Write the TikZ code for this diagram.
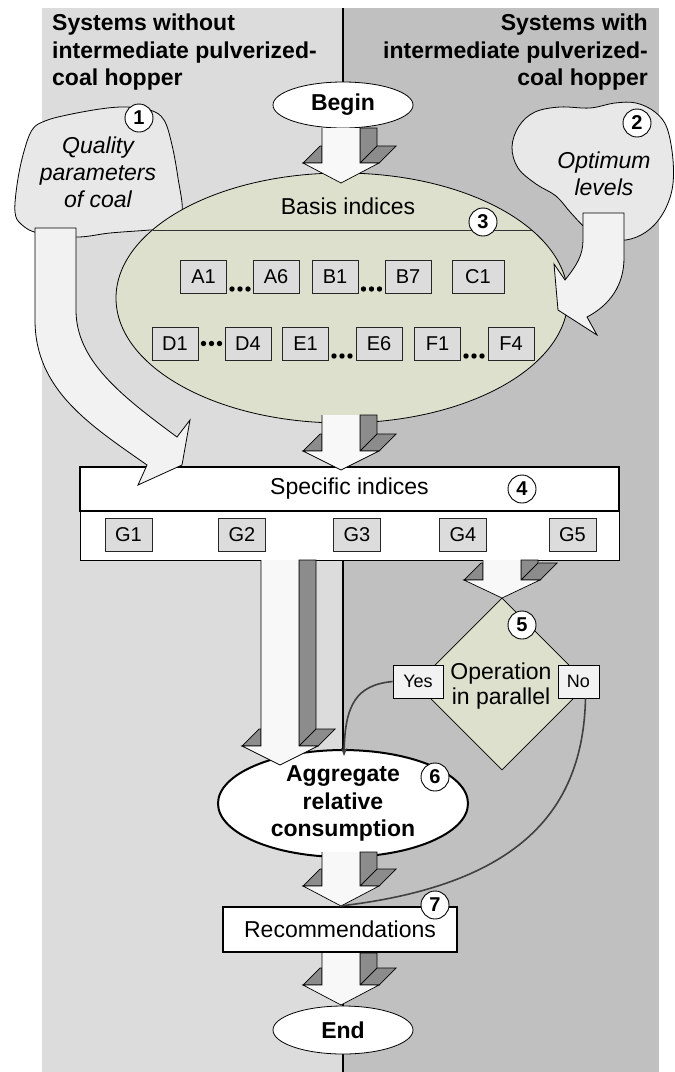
\documentclass[tikz,border=0pt]{standalone}
\usepackage{fontspec}
\setmainfont{Liberation Sans}
\usetikzlibrary{shapes.geometric,arrows.meta,calc}
\definecolor{bgL}{RGB}{220,220,220}
\definecolor{bgR}{RGB}{192,192,192}
\definecolor{cloudc}{RGB}{232,232,232}
\definecolor{sage}{RGB}{221,224,204}
\definecolor{idxg}{RGB}{220,220,220}
\definecolor{arrfr}{RGB}{248,248,248}
\definecolor{arrdk}{RGB}{140,140,140}
\definecolor{curvf}{RGB}{242,242,242}
\definecolor{lnk}{RGB}{64,64,64}
\newcommand{\tdarrow}[4]{%
 \pgfmathsetmacro\tdsl{#1-19}%
 \pgfmathsetmacro\tdsr{#1+19}%
 \pgfmathsetmacro\tdbl{#1-38}%
 \pgfmathsetmacro\tdbr{#1+38}%
 \pgfmathsetmacro\tdup{#3-17}%
 \pgfmathsetmacro\tdsrd{#1+36}%
 \pgfmathsetmacro\tdbrd{#1+55}%
 \pgfmathsetmacro\tdbld{#1-21}%
 \draw[adk] (\tdsr,#2) -- (\tdsrd,#2) -- (\tdsrd,\tdup) -- (\tdsr,#3) -- cycle;
 \draw[adk] (\tdsr,#3) -- (\tdbr,#3) -- (\tdbrd,\tdup) -- (\tdsrd,\tdup) -- cycle;
 \draw[adk] (\tdbl,#3) -- (\tdsl,#3) -- (\tdsl,\tdup) -- (\tdbld,\tdup) -- cycle;
 \fill[afr] (\tdsl,#2) -- (\tdsl,#3) -- (\tdbl,#3) -- (#1,#4) -- (\tdbr,#3) -- (\tdsr,#3) -- (\tdsr,#2) -- cycle;
 \draw[aln] (\tdsl,#2) -- (\tdsl,#3) -- (\tdbl,#3) -- (#1,#4) -- (\tdbr,#3) -- (\tdsr,#3) -- (\tdsr,#2);
}
\newcommand{\tridots}[2]{\foreach \dx in {-8,0,8}{\fill ({#1+\dx},#2) circle (2.7pt);}}
\tikzset{
 idx/.style={rectangle, draw=black!85, line width=0.8pt, fill=idxg, minimum width=46pt, minimum height=33pt, inner sep=0pt, font=\fontsize{20}{24}\selectfont},
 num/.style={circle, draw=black, line width=0.9pt, fill=white, minimum size=28pt, inner sep=0pt, font=\bfseries\fontsize{20}{24}\selectfont},
 term/.style={ellipse, draw=black, line width=0.8pt, fill=white, minimum width=140pt, minimum height=46pt, inner sep=0pt, font=\bfseries\fontsize{23}{27}\selectfont},
 cloudsh/.style={draw=black, line width=0.8pt, fill=cloudc},
 bigarr/.style={draw=black, line width=0.8pt, fill=curvf},
 adk/.style={draw=black, line width=0.7pt, fill=arrdk},
 afr/.style={fill=arrfr},
 aln/.style={draw=black, line width=0.7pt},
 yn/.style={rectangle, draw=black, line width=0.8pt, fill=curvf, minimum height=33pt, inner sep=0pt, font=\fontsize{18}{22}\selectfont},
 link/.style={draw=lnk, line width=1.6pt},
 heading/.style={inner sep=0pt, font=\bfseries\fontsize{23}{27.5}\selectfont},
 cltext/.style={inner sep=0pt, align=center, font=\itshape\fontsize{23}{27}\selectfont},
}
\begin{document}
\begin{tikzpicture}[x=1pt,y=-1pt]
\useasboundingbox (0,0) rectangle (675,1072);
\fill[white] (0,0) rectangle (675,1072);
% background panels
\fill[bgL] (42,8) rectangle (343,1072);
\fill[bgR] (343,8) rectangle (659,1072);
\draw[line width=1.2pt] (343,8) -- (343,1072);
% headings
\node[heading, anchor=north west, align=left] (hl) at (52,14) {Systems without\\intermediate pulverized-\\coal hopper};
\node[heading, anchor=north east, align=right] (hr) at (648,14) {Systems with\\intermediate pulverized-\\coal hopper};
% clouds
\draw[cloudsh] plot[smooth cycle, tension=0.6] coordinates {(15,212) (17,185) (23,155) (32,130) (45,121) (67,115) (100,109) (125,107) (150,110) (164,120) (172,145) (178,178) (182,212) (170,228) (150,230) (110,233) (77,237) (38,233) (21,224)};
\draw[cloudsh] plot[smooth cycle, tension=0.6] coordinates {(512,147) (518,168) (536,184) (556,196) (571,213) (587,229) (606,238) (626,240) (646,232) (662,215) (672,190) (673,160) (667,128) (655,112) (636,103) (615,103) (590,108) (560,107) (535,112) (519,126)};
\node[cltext] (c1t) at (98,172) {Quality\\parameters\\of coal};
\node[cltext] (c2t) at (604,174) {Optimum\\levels};
% basis ellipse
\node[ellipse, draw=black, line width=0.8pt, fill=sage, minimum width=452pt, minimum height=250pt, inner sep=0pt] (basis) at (342,298) {};
\draw[draw=black!80, line width=0.9pt] (152.5,230) -- (531.5,230);
\node[inner sep=0pt, font=\fontsize{23}{27}\selectfont] (bt) at (348,206) {Basis indices};
\node[idx] (a1) at (203.5,276.5) {A1};
\node[idx] (a6) at (276,276.5) {A6};
\node[idx] (b1) at (335,276.5) {B1};
\node[idx] (b7) at (408,276.5) {B7};
\node[idx, minimum width=52pt] (c1) at (478,276.5) {C1};
\node[idx] (d1) at (175,343.5) {D1};
\node[idx] (d4) at (248,343.5) {D4};
\node[idx] (e1) at (305.5,343.5) {E1};
\node[idx] (e6) at (379,343.5) {E6};
\node[idx] (f1) at (437.5,343.5) {F1};
\node[idx] (f4) at (511,343.5) {F4};
\tridots{240}{289}
\tridots{371.5}{289}
\tridots{211.5}{343.5}
\tridots{342}{356}
\tridots{474}{356}
% begin
\node[term] (begin) at (343,105) {Begin};
% specific indices
\node[rectangle, draw=black, line width=0.9pt, fill=white, minimum width=539pt, minimum height=49pt, inner sep=0pt] (specg) at (349.5,535.5) {};
\node[rectangle, draw=black, line width=1.8pt, fill=white, minimum width=539pt, minimum height=44pt, inner sep=0pt, font=\fontsize{23}{27}\selectfont] (spec) at (349.5,489) {Specific indices};
\node[idx, minimum width=47pt] (g1) at (128.5,534.5) {G1};
\node[idx, minimum width=47pt] (g2) at (242,534.5) {G2};
\node[idx, minimum width=47pt] (g3) at (357,534.5) {G3};
\node[idx, minimum width=47pt] (g4) at (463,534.5) {G4};
\node[idx, minimum width=47pt] (g5) at (572.5,534.5) {G5};
% diamond
\node[diamond, draw=black, line width=0.8pt, fill=sage, minimum width=172pt, minimum height=172pt, inner sep=0pt] (dia) at (502,684) {};
\node[inner sep=0pt, align=center, font=\fontsize{23}{25}\selectfont] (diat) at (501,686) {Operation\\in parallel};
% aggregate
\node[ellipse, draw=black, line width=2pt, fill=white, minimum width=250pt, minimum height=97pt, inner sep=0pt, align=center, font=\bfseries\fontsize{23}{27.5}\selectfont] (agg) at (343,803.5) {Aggregate\\relative\\consumption};
% recommendations
\node[rectangle, draw=black, line width=2pt, fill=white, minimum width=234pt, minimum height=45pt, inner sep=0pt, font=\fontsize{23}{27}\selectfont] (rec) at (340,929.5) {Recommendations};
% end
\node[term, minimum height=48pt] (end) at (343,1030) {End};
% 3D arrows
\tdarrow{341}{128}{163}{183}
\tdarrow{341}{415}{451}{470}
\tdarrow{280}{560}{746}{765}
\tdarrow{502}{560}{580}{598}
\tdarrow{341}{852}{886}{906}
\tdarrow{341}{953}{985}{1005}
% curved block arrows
\draw[bigarr] (35,228) -- (76,228) -- (76,310) .. controls (76,360) and (120,395) .. (177,437) -- (190,420) -- (182,465) -- (138,485) -- (147,465) .. controls (90,425) and (35,390) .. (35,320) -- cycle;
\draw[bigarr] (583,213) -- (624,213) -- (624,258) .. controls (624,285) and (610,305) .. (587,317) -- (597,335) -- (558,310) -- (554,264) -- (565,280) .. controls (577,265) and (583,255) .. (583,240) -- cycle;
% yes / no
\node[yn, minimum width=50pt] (yes) at (418,681.5) {Yes};
\node[yn, minimum width=41pt] (no) at (578.5,681.5) {No};
\draw[link, -{Stealth[length=8pt,width=6pt]}] (yes.west) .. controls (356,685) and (345,705) .. (344,756);
\draw[link] ($(no.south)+(7,0)$) .. controls (583,810) and (520,885) .. (rec.north);
% numbers
\node[num] (n1) at (139,118) {1};
\node[num] (n2) at (637,123) {2};
\node[num] (n3) at (483,222) {3};
\node[num] (n4) at (522,489) {4};
\node[num] (n5) at (522,625) {5};
\node[num] (n6) at (435,777) {6};
\node[num] (n7) at (435,905) {7};
\end{tikzpicture}
\end{document}
